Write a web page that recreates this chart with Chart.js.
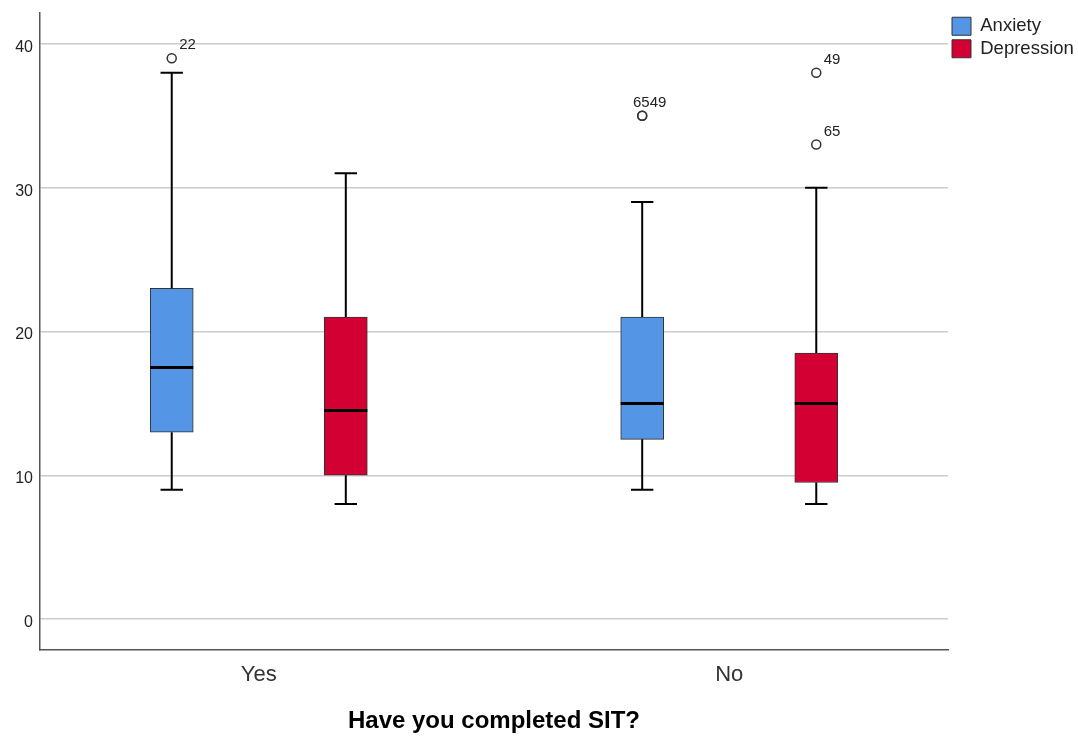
<!DOCTYPE html>
<html>
<head>
<meta charset="utf-8">
<title>Have you completed SIT?</title>
<script src="https://cdn.jsdelivr.net/npm/chart.js@4/dist/chart.umd.min.js"></script>
<style>
  body { margin: 0; background: #fff; }
  #wrap { width: 1078px; height: 740px; }
</style>
</head>
<body>
<div id="wrap"><canvas id="chart"></canvas></div>
<script>
// data
const groups = ["Yes", "No"];
const yTicks = [0, 10, 20, 30, 40];

const anxMin = [9, 9];
const anxQ1 = [13, 12.5];
const anxMed = [17.5, 15];
const anxQ3 = [23, 21];
const anxMax = [38, 29];
const anxOutliers = [[39], [35, 35]];
const anxOutlierIds = [["22"], ["65", "49"]];

const depMin = [8, 8];
const depQ1 = [10, 9.5];
const depMed = [14.5, 15];
const depQ3 = [21, 18.5];
const depMax = [31, 30];
const depOutliers = [[], [33, 38]];
const depOutlierIds = [[], ["65", "49"]];

// layout
const boxOffset = 0.185; // each box sits this far from the group centre
const font = "'Liberation Sans', Arial, sans-serif";
Chart.defaults.font.family = font;

const boxes = (q1, q3, side) =>
  groups.map((g, i) => ({ x: i + 1 + side * boxOffset, y: [q1[i], q3[i]] }));

// whiskers, medians and outliers, placed from the bar elements and the y scale
const boxExtras = {
  id: "boxExtras",
  afterDatasetsDraw(chart) {
    const { ctx } = chart;
    const y = chart.scales.y;
    chart.data.datasets.forEach((ds, k) => {
      const meta = chart.getDatasetMeta(k);
      const s = ds.stats;
      meta.data.forEach((bar, i) => {
        const cx = bar.x;
        const half = bar.width / 2;
        const cap = bar.width * 0.26;
        const top = y.getPixelForValue(ds.data[i].y[1]);
        const bot = y.getPixelForValue(ds.data[i].y[0]);
        ctx.save();
        ctx.strokeStyle = "#000";
        ctx.lineWidth = 2;
        ctx.beginPath();
        ctx.moveTo(cx, top);
        ctx.lineTo(cx, y.getPixelForValue(s.max[i]));
        ctx.moveTo(cx - cap, y.getPixelForValue(s.max[i]));
        ctx.lineTo(cx + cap, y.getPixelForValue(s.max[i]));
        ctx.moveTo(cx, bot);
        ctx.lineTo(cx, y.getPixelForValue(s.min[i]));
        ctx.moveTo(cx - cap, y.getPixelForValue(s.min[i]));
        ctx.lineTo(cx + cap, y.getPixelForValue(s.min[i]));
        ctx.stroke();

        ctx.lineWidth = 3;
        ctx.beginPath();
        ctx.moveTo(cx - half, y.getPixelForValue(s.med[i]));
        ctx.lineTo(cx + half, y.getPixelForValue(s.med[i]));
        ctx.stroke();

        // outliers
        ctx.strokeStyle = "#333";
        ctx.lineWidth = 1.5;
        ctx.fillStyle = "#222";
        ctx.font = "15px " + font;
        ctx.textBaseline = "alphabetic";
        const pts = s.out[i];
        pts.forEach((v, j) => {
          const py = y.getPixelForValue(v);
          ctx.beginPath();
          ctx.arc(cx, py, 4.5, 0, Math.PI * 2);
          ctx.stroke();
          // coincident points: earlier ids go to the left of later ones
          const later = pts.slice(j + 1).some((w) => w === v);
          ctx.textAlign = later ? "right" : "left";
          ctx.fillText(s.ids[i][j], cx + 7.5, py - 9);
        });
        ctx.restore();
      });
    });
  },
};

new Chart(document.getElementById("chart"), {
  type: "bar",
  data: {
    datasets: [
      {
        label: "Anxiety",
        data: boxes(anxQ1, anxQ3, -1),
        stats: { min: anxMin, med: anxMed, max: anxMax, out: anxOutliers, ids: anxOutlierIds },
        backgroundColor: "#5595e5",
        borderColor: "#333",
        borderWidth: 1,
      },
      {
        label: "Depression",
        data: boxes(depQ1, depQ3, 1),
        stats: { min: depMin, med: depMed, max: depMax, out: depOutliers, ids: depOutlierIds },
        backgroundColor: "#d30034",
        borderColor: "#333",
        borderWidth: 1,
      },
    ],
  },
  options: {
    responsive: true,
    maintainAspectRatio: false,
    animation: false,
    grouped: false,
    barThickness: 43,
    borderSkipped: false,
    layout: { padding: { top: 13, left: 0, right: 0, bottom: 0 } },
    plugins: {
      tooltip: { enabled: false },
      legend: {
        position: "right",
        align: "start",
        maxWidth: 130,
        labels: {
          boxWidth: 19,
          boxHeight: 18,
          padding: 4,
          color: "#222",
          font: { size: 18.5 },
        },
      },
    },
    scales: {
      x: {
        type: "linear",
        offset: false,
        min: 0.535,
        max: 2.465,
        afterBuildTicks: (scale) => {
          scale.ticks = groups.map((g, i) => ({ value: i + 1 }));
        },
        afterFit: (scale) => {
          scale.height = 90;
          scale.paddingLeft = 0;
          scale.paddingRight = 0;
        },
        ticks: {
          callback: (value) => groups[Math.round(value) - 1],
          color: "#333",
          padding: 12,
          font: { size: 22 },
        },
        grid: { display: false, drawTicks: false, offset: false },
        border: { display: true, color: "#555", width: 1.5 },
        title: {
          display: true,
          text: "Have you completed SIT?",
          color: "#000",
          font: { size: 24, weight: "bold" },
          padding: { top: 0, bottom: 4 },
        },
      },
      y: {
        min: -2.15,
        max: 42.15,
        afterBuildTicks: (scale) => {
          scale.ticks = yTicks.map((v) => ({ value: v }));
        },
        afterFit: (scale) => {
          scale.width = 40;
          scale.paddingTop = 0;
          scale.paddingBottom = 0;
        },
        ticks: {
          color: "#222",
          padding: 7,
          labelOffset: 3.5,
          font: { size: 16 },
        },
        grid: { color: "#cccccc", lineWidth: 1.5, drawTicks: false },
        border: { display: true, color: "#555", width: 1.5 },
      },
    },
  },
  plugins: [boxExtras],
});
</script>
</body>
</html>
